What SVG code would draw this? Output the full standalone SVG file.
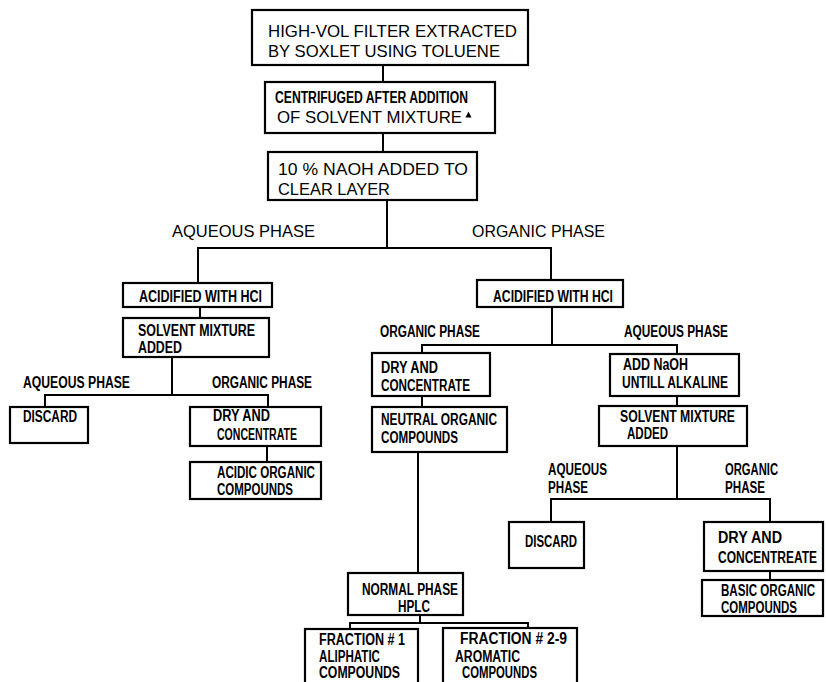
<svg xmlns="http://www.w3.org/2000/svg" width="826" height="682" viewBox="0 0 826 682">
<style>
rect{fill:#fff;stroke:#000;stroke-width:2.2}
.c line{stroke:#000;stroke-width:2}
text{font-family:"Liberation Sans",Arial,sans-serif;fill:#000}
.r{font-size:16.5px}
.b{font-size:16px;font-weight:bold}
</style>
<rect x="0" y="0" width="826" height="682" style="stroke:none"/>
<g class="c" id="connectors">
<line x1="383" y1="65" x2="383" y2="82"/>
<line x1="383" y1="133" x2="383" y2="152"/>
<line x1="387" y1="200" x2="387" y2="248"/>
<line x1="198" y1="248" x2="551" y2="248"/>
<line x1="198" y1="247" x2="198" y2="283"/>
<line x1="551" y1="247" x2="551" y2="280"/>
<line x1="200" y1="307" x2="200" y2="318"/>
<line x1="172" y1="357" x2="172" y2="395"/>
<line x1="45" y1="395" x2="268" y2="395"/>
<line x1="45" y1="394" x2="45" y2="407"/>
<line x1="268" y1="394" x2="268" y2="407"/>
<line x1="267" y1="446" x2="267" y2="462"/>
<line x1="552" y1="307" x2="552" y2="345"/>
<line x1="422" y1="345" x2="677" y2="345"/>
<line x1="422" y1="344" x2="422" y2="353"/>
<line x1="677" y1="344" x2="677" y2="354"/>
<line x1="422" y1="396" x2="422" y2="407"/>
<line x1="418" y1="452" x2="418" y2="573"/>
<line x1="420" y1="615" x2="420" y2="623"/>
<line x1="350" y1="623" x2="528" y2="623"/>
<line x1="350" y1="622" x2="350" y2="629"/>
<line x1="528" y1="622" x2="528" y2="628"/>
<line x1="677" y1="396" x2="677" y2="406"/>
<line x1="677" y1="446" x2="677" y2="499"/>
<line x1="551" y1="499" x2="770" y2="499"/>
<line x1="551" y1="498" x2="551" y2="522"/>
<line x1="770" y1="498" x2="770" y2="522"/>
<line x1="770" y1="571" x2="770" y2="580"/>
</g>
<g id="labels">
<text class="r" x="172" y="237" textLength="143" lengthAdjust="spacingAndGlyphs">AQUEOUS PHASE</text>
<text class="r" x="472" y="237" textLength="133" lengthAdjust="spacingAndGlyphs">ORGANIC PHASE</text>
<text class="b" x="23" y="388" textLength="107" lengthAdjust="spacingAndGlyphs">AQUEOUS PHASE</text>
<text class="b" x="212" y="388" textLength="100" lengthAdjust="spacingAndGlyphs">ORGANIC PHASE</text>
<text class="b" x="380" y="337" textLength="100" lengthAdjust="spacingAndGlyphs">ORGANIC PHASE</text>
<text class="b" x="624" y="337" textLength="104" lengthAdjust="spacingAndGlyphs">AQUEOUS PHASE</text>
<text class="b" x="548" y="475" textLength="59" lengthAdjust="spacingAndGlyphs">AQUEOUS</text>
<text class="b" x="548" y="493" textLength="40" lengthAdjust="spacingAndGlyphs">PHASE</text>
<text class="b" x="725" y="475" textLength="53" lengthAdjust="spacingAndGlyphs">ORGANIC</text>
<text class="b" x="725" y="493" textLength="40" lengthAdjust="spacingAndGlyphs">PHASE</text>
</g>
<g id="n1">
<rect x="252" y="10" width="276" height="55"/>
<text class="r" x="268" y="37" textLength="249" lengthAdjust="spacingAndGlyphs">HIGH-VOL FILTER EXTRACTED</text>
<text class="r" x="268" y="57" textLength="232" lengthAdjust="spacingAndGlyphs">BY SOXLET USING TOLUENE</text>
</g>
<g id="n2">
<rect x="265" y="82" width="230" height="51"/>
<text class="b" x="275" y="103" textLength="193" lengthAdjust="spacingAndGlyphs">CENTRIFUGED AFTER ADDITION</text>
<text class="r" x="277" y="123" textLength="185" lengthAdjust="spacingAndGlyphs">OF SOLVENT MIXTURE</text>
<polygon points="465.5,117.5 471.5,117.5 468.5,111.5" fill="#000"/>
</g>
<g id="n3">
<rect x="268" y="152" width="209" height="48"/>
<text class="r" x="278" y="175" textLength="190" lengthAdjust="spacingAndGlyphs">10 % NAOH ADDED TO</text>
<text class="r" x="278" y="195" textLength="112" lengthAdjust="spacingAndGlyphs">CLEAR LAYER</text>
</g>
<g id="n4">
<rect x="123" y="283" width="149" height="24"/>
<text class="b" x="139" y="302" textLength="123" lengthAdjust="spacingAndGlyphs">ACIDIFIED WITH HCl</text>
</g>
<g id="n5">
<rect x="123" y="318" width="146" height="39"/>
<text class="b" x="138" y="336" textLength="117" lengthAdjust="spacingAndGlyphs">SOLVENT MIXTURE</text>
<text class="b" x="138" y="353" textLength="44" lengthAdjust="spacingAndGlyphs">ADDED</text>
</g>
<g id="n6">
<rect x="10" y="407" width="78" height="36"/>
<text class="b" x="23" y="422" textLength="54" lengthAdjust="spacingAndGlyphs">DISCARD</text>
</g>
<g id="n7">
<rect x="190" y="407" width="131" height="39"/>
<text class="b" x="213" y="421" textLength="57" lengthAdjust="spacingAndGlyphs">DRY AND</text>
<text class="b" x="217" y="440" textLength="80" lengthAdjust="spacingAndGlyphs">CONCENTRATE</text>
</g>
<g id="n8">
<rect x="190" y="462" width="131" height="37"/>
<text class="b" x="217" y="478" textLength="98" lengthAdjust="spacingAndGlyphs">ACIDIC ORGANIC</text>
<text class="b" x="217" y="495" textLength="76" lengthAdjust="spacingAndGlyphs">COMPOUNDS</text>
</g>
<g id="n9">
<rect x="477" y="280" width="146" height="27"/>
<text class="b" x="493" y="302" textLength="120" lengthAdjust="spacingAndGlyphs">ACIDIFIED WITH HCl</text>
</g>
<g id="n10">
<rect x="372" y="353" width="118" height="43"/>
<text class="b" x="381" y="373" textLength="57" lengthAdjust="spacingAndGlyphs">DRY AND</text>
<text class="b" x="381" y="391" textLength="89" lengthAdjust="spacingAndGlyphs">CONCENTRATE</text>
</g>
<g id="n11">
<rect x="372" y="407" width="135" height="45"/>
<text class="b" x="381" y="425" textLength="116" lengthAdjust="spacingAndGlyphs">NEUTRAL ORGANIC</text>
<text class="b" x="381" y="443" textLength="77" lengthAdjust="spacingAndGlyphs">COMPOUNDS</text>
</g>
<g id="n12">
<rect x="348" y="573" width="115" height="42"/>
<text class="b" x="362" y="595" textLength="96" lengthAdjust="spacingAndGlyphs">NORMAL PHASE</text>
<text class="b" x="398" y="612" textLength="32" lengthAdjust="spacingAndGlyphs">HPLC</text>
</g>
<g id="n13">
<rect x="305" y="629" width="113" height="62"/>
<text class="b" x="319" y="645" textLength="86" lengthAdjust="spacingAndGlyphs">FRACTION # 1</text>
<text class="b" x="319" y="662" textLength="61" lengthAdjust="spacingAndGlyphs">ALIPHATIC</text>
<text class="b" x="319" y="678" textLength="81" lengthAdjust="spacingAndGlyphs">COMPOUNDS</text>
</g>
<g id="n14">
<rect x="443" y="628" width="134" height="63"/>
<text class="b" x="460" y="644" textLength="107" lengthAdjust="spacingAndGlyphs">FRACTION # 2-9</text>
<text class="b" x="455" y="662" textLength="65" lengthAdjust="spacingAndGlyphs">AROMATIC</text>
<text class="b" x="462" y="678" textLength="75" lengthAdjust="spacingAndGlyphs">COMPOUNDS</text>
</g>
<g id="n15">
<rect x="610" y="354" width="129" height="42"/>
<text class="b" x="623" y="370" textLength="65" lengthAdjust="spacingAndGlyphs">ADD NaOH</text>
<text class="b" x="622" y="388" textLength="106" lengthAdjust="spacingAndGlyphs">UNTILL ALKALINE</text>
</g>
<g id="n16">
<rect x="599" y="406" width="148" height="40"/>
<text class="b" x="620" y="422" textLength="115" lengthAdjust="spacingAndGlyphs">SOLVENT MIXTURE</text>
<text class="b" x="627" y="439" textLength="41" lengthAdjust="spacingAndGlyphs">ADDED</text>
</g>
<g id="n17">
<rect x="509" y="522" width="75" height="46"/>
<text class="b" x="525" y="547" textLength="52" lengthAdjust="spacingAndGlyphs">DISCARD</text>
</g>
<g id="n18">
<rect x="704" y="522" width="119" height="49"/>
<text class="b" x="718" y="543" textLength="64" lengthAdjust="spacingAndGlyphs">DRY AND</text>
<text class="b" x="718" y="563" textLength="99" lengthAdjust="spacingAndGlyphs">CONCENTREATE</text>
</g>
<g id="n19">
<rect x="702" y="580" width="121" height="36"/>
<text class="b" x="721" y="596" textLength="94" lengthAdjust="spacingAndGlyphs">BASIC ORGANIC</text>
<text class="b" x="721" y="613" textLength="76" lengthAdjust="spacingAndGlyphs">COMPOUNDS</text>
</g>
</svg>
